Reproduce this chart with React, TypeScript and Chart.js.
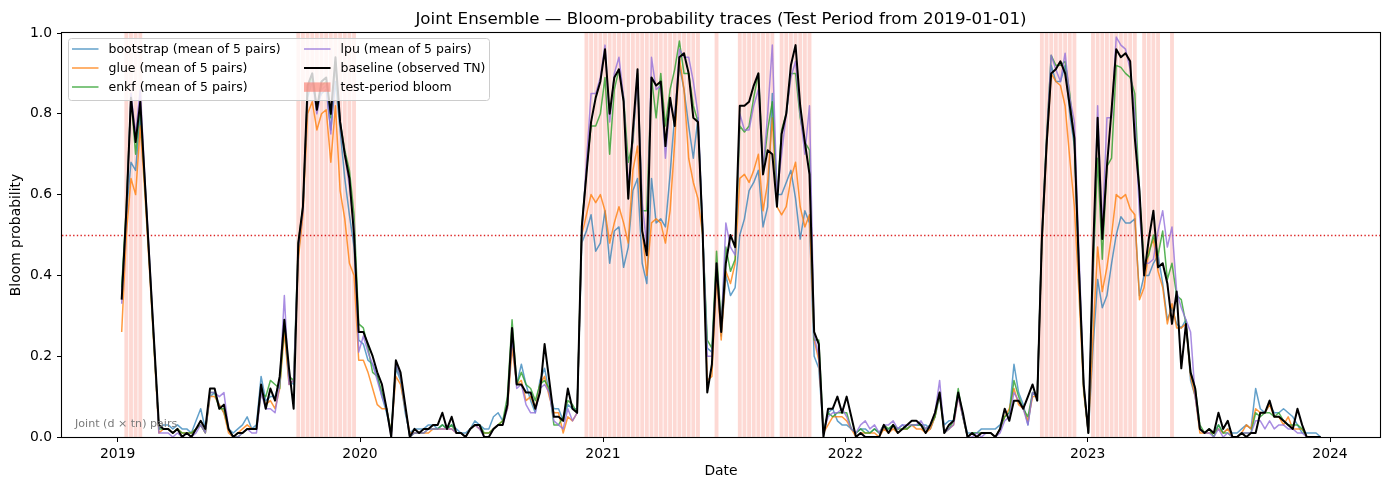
import React, { useEffect, useRef } from 'react';
import { Chart, registerables } from 'chart.js';

Chart.register(...registerables);

// ---- data -------------------------------------------------------------
// Weekly samples, first week starts 2019-01-07 (day 6 counted from 2019-01-01).
const FIRST_WEEK_DAY = 6;
const WEEK_COUNT = 259;
const WEEK_DAYS: number[] = Array.from({ length: WEEK_COUNT }, (_, i) => FIRST_WEEK_DAY + 7 * i);

const YEAR_LABELS = ['2019', '2020', '2021', '2022', '2023', '2024'];
const YEAR_TICK_DAYS = [0, 365, 731, 1096, 1461, 1826];
const Y_TICKS = [0, 0.2, 0.4, 0.6, 0.8, 1.0];
const THRESHOLD = 0.5;

const SERIES_LABELS = [
  'bootstrap (mean of 5 pairs)',
  'glue (mean of 5 pairs)',
  'enkf (mean of 5 pairs)',
  'lpu (mean of 5 pairs)',
  'baseline (observed TN)',
];
const BLOOM_LABEL = 'test-period bloom';
const NOTE_TEXT = 'Joint (d \u00d7 tn) pairs';

// indices of weeks flagged as blooms in the test period
const BLOOM_WEEKS = [
  1, 2, 3, 4,
  38, 39, 40, 41, 42, 43, 44, 45, 46, 47, 48, 49, 50,
  100, 101, 102, 103, 104, 105, 106, 107, 108, 109, 110, 111, 112, 113, 114, 115, 116, 117, 118, 119, 120, 121, 122, 123, 124,
  128,
  133, 134, 135, 136, 137, 138, 139, 140,
  142, 143, 144, 145, 146, 147, 148,
  198, 199, 200, 201, 202, 203, 204, 205,
  209, 210, 211, 212, 213, 214, 215, 216, 217, 218,
  220, 221, 222, 223,
  226,
];

const BASELINE = [
  0.34, 0.56, 0.84, 0.73, 0.83, 0.63, 0.43, 0.23, 0.03, 0.02,
  0.02, 0.01, 0.02, 0.00, 0.01, 0.00, 0.02, 0.04, 0.02, 0.12,
  0.12, 0.07, 0.08, 0.02, 0.00, 0.01, 0.01, 0.02, 0.02, 0.02,
  0.13, 0.07, 0.12, 0.09, 0.15, 0.29, 0.17, 0.07, 0.48, 0.57,
  0.87, 0.90, 0.81, 0.88, 0.89, 0.80, 0.94, 0.78, 0.70, 0.64,
  0.50, 0.26, 0.26, 0.23, 0.20, 0.16, 0.13, 0.07, 0.00, 0.19,
  0.16, 0.08, 0.00, 0.02, 0.01, 0.02, 0.02, 0.03, 0.03, 0.06,
  0.02, 0.05, 0.01, 0.01, 0.00, 0.02, 0.03, 0.03, 0.00, 0.00,
  0.02, 0.03, 0.03, 0.08, 0.27, 0.13, 0.13, 0.11, 0.11, 0.07,
  0.11, 0.23, 0.14, 0.05, 0.05, 0.04, 0.12, 0.07, 0.06, 0.52,
  0.65, 0.78, 0.84, 0.88, 0.96, 0.80, 0.89, 0.91, 0.83, 0.59,
  0.76, 0.91, 0.51, 0.45, 0.89, 0.87, 0.88, 0.72, 0.84, 0.77,
  0.94, 0.95, 0.90, 0.79, 0.78, 0.51, 0.11, 0.18, 0.43, 0.26,
  0.43, 0.50, 0.47, 0.82, 0.82, 0.83, 0.87, 0.90, 0.65, 0.71,
  0.70, 0.57, 0.75, 0.80, 0.92, 0.97, 0.82, 0.73, 0.65, 0.26,
  0.23, 0.00, 0.07, 0.07, 0.10, 0.06, 0.10, 0.05, 0.00, 0.01,
  0.00, 0.00, 0.00, 0.00, 0.03, 0.01, 0.03, 0.01, 0.02, 0.03,
  0.04, 0.04, 0.03, 0.01, 0.03, 0.06, 0.11, 0.01, 0.03, 0.04,
  0.11, 0.06, 0.00, 0.01, 0.00, 0.01, 0.01, 0.01, 0.00, 0.02,
  0.07, 0.04, 0.09, 0.09, 0.07, 0.10, 0.13, 0.09, 0.49, 0.72,
  0.90, 0.91, 0.93, 0.90, 0.82, 0.74, 0.41, 0.13, 0.01, 0.45,
  0.79, 0.49, 0.67, 0.81, 0.96, 0.94, 0.95, 0.93, 0.74, 0.61,
  0.40, 0.49, 0.56, 0.42, 0.43, 0.38, 0.28, 0.36, 0.17, 0.28,
  0.16, 0.12, 0.02, 0.01, 0.02, 0.01, 0.06, 0.02, 0.04, 0.00,
  0.00, 0.01, 0.00, 0.01, 0.01, 0.06, 0.06, 0.09, 0.05, 0.05,
  0.04, 0.03, 0.02, 0.07, 0.03, 0.00, 0.00, 0.00, 0.00,
];

const BOOTSTRAP = [
  0.36, 0.55, 0.68, 0.66, 0.80, 0.62, 0.42, 0.22, 0.02, 0.03,
  0.03, 0.02, 0.03, 0.02, 0.02, 0.01, 0.04, 0.07, 0.02, 0.10,
  0.11, 0.08, 0.06, 0.02, 0.01, 0.02, 0.03, 0.05, 0.02, 0.03,
  0.15, 0.09, 0.10, 0.10, 0.14, 0.27, 0.14, 0.13, 0.45, 0.56,
  0.84, 0.88, 0.82, 0.85, 0.86, 0.76, 0.88, 0.76, 0.64, 0.55,
  0.47, 0.24, 0.23, 0.19, 0.18, 0.15, 0.10, 0.06, 0.01, 0.17,
  0.14, 0.06, 0.01, 0.02, 0.02, 0.02, 0.03, 0.03, 0.02, 0.03,
  0.02, 0.03, 0.02, 0.01, 0.01, 0.02, 0.04, 0.03, 0.02, 0.02,
  0.05, 0.06, 0.04, 0.08, 0.24, 0.13, 0.18, 0.13, 0.09, 0.06,
  0.14, 0.17, 0.11, 0.07, 0.07, 0.04, 0.08, 0.07, 0.07, 0.48,
  0.51, 0.55, 0.46, 0.48, 0.56, 0.43, 0.51, 0.52, 0.42, 0.47,
  0.61, 0.64, 0.43, 0.38, 0.64, 0.53, 0.54, 0.52, 0.65, 0.80,
  0.92, 0.86, 0.77, 0.69, 0.79, 0.51, 0.22, 0.21, 0.42, 0.25,
  0.40, 0.35, 0.37, 0.50, 0.54, 0.61, 0.63, 0.66, 0.52, 0.57,
  0.85, 0.60, 0.60, 0.63, 0.66, 0.59, 0.49, 0.56, 0.53, 0.20,
  0.17, 0.01, 0.06, 0.07, 0.04, 0.03, 0.03, 0.02, 0.01, 0.02,
  0.02, 0.01, 0.02, 0.01, 0.02, 0.02, 0.03, 0.02, 0.03, 0.02,
  0.03, 0.03, 0.03, 0.03, 0.02, 0.05, 0.10, 0.03, 0.04, 0.04,
  0.11, 0.05, 0.01, 0.01, 0.01, 0.02, 0.02, 0.02, 0.02, 0.03,
  0.05, 0.06, 0.18, 0.11, 0.08, 0.03, 0.11, 0.10, 0.48, 0.72,
  0.92, 0.88, 0.88, 0.92, 0.80, 0.72, 0.40, 0.12, 0.01, 0.22,
  0.39, 0.32, 0.35, 0.43, 0.50, 0.545, 0.53, 0.53, 0.54, 0.35,
  0.40, 0.40, 0.43, 0.45, 0.38, 0.29, 0.32, 0.28, 0.27, 0.29,
  0.14, 0.10, 0.02, 0.01, 0.01, 0.01, 0.03, 0.01, 0.02, 0.01,
  0.01, 0.02, 0.03, 0.02, 0.12, 0.07, 0.06, 0.08, 0.06, 0.06,
  0.07, 0.06, 0.05, 0.03, 0.01, 0.01, 0.01, 0.01, 0.00,
];

const GLUE = [
  0.26, 0.50, 0.64, 0.60, 0.77, 0.60, 0.41, 0.21, 0.01, 0.02,
  0.02, 0.01, 0.02, 0.01, 0.01, 0.01, 0.02, 0.03, 0.01, 0.10,
  0.10, 0.08, 0.06, 0.01, 0.00, 0.01, 0.02, 0.03, 0.02, 0.02,
  0.11, 0.08, 0.09, 0.07, 0.12, 0.26, 0.13, 0.14, 0.44, 0.55,
  0.80, 0.83, 0.76, 0.80, 0.81, 0.68, 0.82, 0.61, 0.54, 0.43,
  0.40, 0.19, 0.19, 0.16, 0.12, 0.08, 0.07, 0.07, 0.01, 0.15,
  0.13, 0.07, 0.01, 0.01, 0.01, 0.01, 0.01, 0.02, 0.02, 0.02,
  0.02, 0.02, 0.01, 0.01, 0.00, 0.02, 0.03, 0.02, 0.01, 0.01,
  0.02, 0.03, 0.04, 0.07, 0.22, 0.13, 0.14, 0.09, 0.10, 0.07,
  0.13, 0.15, 0.10, 0.06, 0.06, 0.01, 0.05, 0.04, 0.06, 0.50,
  0.55, 0.60, 0.58, 0.60, 0.56, 0.48, 0.53, 0.57, 0.53, 0.48,
  0.66, 0.72, 0.51, 0.40, 0.53, 0.54, 0.53, 0.48, 0.56, 0.73,
  0.94, 0.86, 0.69, 0.63, 0.59, 0.50, 0.14, 0.15, 0.40, 0.24,
  0.41, 0.38, 0.43, 0.64, 0.65, 0.63, 0.66, 0.70, 0.56, 0.63,
  0.79, 0.57, 0.55, 0.57, 0.64, 0.68, 0.57, 0.52, 0.55, 0.24,
  0.19, 0.01, 0.03, 0.05, 0.05, 0.05, 0.04, 0.02, 0.00, 0.01,
  0.01, 0.01, 0.01, 0.00, 0.02, 0.01, 0.02, 0.01, 0.02, 0.02,
  0.03, 0.02, 0.02, 0.01, 0.02, 0.05, 0.11, 0.01, 0.02, 0.03,
  0.10, 0.05, 0.00, 0.01, 0.00, 0.01, 0.01, 0.01, 0.00, 0.02,
  0.05, 0.07, 0.12, 0.08, 0.07, 0.04, 0.10, 0.10, 0.48, 0.71,
  0.90, 0.88, 0.87, 0.82, 0.69, 0.57, 0.35, 0.11, 0.01, 0.25,
  0.47, 0.36, 0.42, 0.50, 0.60, 0.59, 0.60, 0.565, 0.55, 0.34,
  0.37, 0.46, 0.49, 0.41, 0.37, 0.28, 0.33, 0.27, 0.27, 0.28,
  0.15, 0.10, 0.01, 0.01, 0.01, 0.01, 0.02, 0.01, 0.02, 0.00,
  0.00, 0.01, 0.03, 0.02, 0.07, 0.06, 0.06, 0.08, 0.05, 0.05,
  0.03, 0.05, 0.02, 0.02, 0.02, 0.00, 0.00, 0.00, 0.00,
];

const ENKF = [
  0.37, 0.57, 0.84, 0.70, 0.82, 0.63, 0.43, 0.22, 0.02, 0.02,
  0.02, 0.01, 0.02, 0.01, 0.01, 0.01, 0.02, 0.03, 0.01, 0.11,
  0.11, 0.07, 0.07, 0.02, 0.00, 0.00, 0.01, 0.02, 0.02, 0.02,
  0.11, 0.10, 0.14, 0.13, 0.12, 0.29, 0.15, 0.14, 0.48, 0.57,
  0.86, 0.89, 0.81, 0.87, 0.88, 0.79, 0.92, 0.78, 0.71, 0.66,
  0.55, 0.28, 0.27, 0.22, 0.16, 0.15, 0.11, 0.07, 0.01, 0.18,
  0.15, 0.07, 0.00, 0.01, 0.01, 0.01, 0.02, 0.02, 0.02, 0.03,
  0.02, 0.03, 0.01, 0.01, 0.00, 0.02, 0.03, 0.03, 0.01, 0.01,
  0.02, 0.03, 0.04, 0.10, 0.29, 0.13, 0.16, 0.13, 0.12, 0.09,
  0.13, 0.14, 0.12, 0.03, 0.03, 0.05, 0.09, 0.08, 0.06, 0.52,
  0.66, 0.77, 0.77, 0.80, 0.89, 0.70, 0.86, 0.91, 0.84, 0.68,
  0.73, 0.90, 0.56, 0.56, 0.89, 0.79, 0.90, 0.77, 0.86, 0.91,
  0.98, 0.90, 0.90, 0.82, 0.78, 0.51, 0.24, 0.22, 0.46, 0.28,
  0.47, 0.41, 0.44, 0.77, 0.755, 0.77, 0.84, 0.90, 0.66, 0.76,
  0.83, 0.59, 0.76, 0.80, 0.90, 0.90, 0.79, 0.73, 0.71, 0.24,
  0.24, 0.01, 0.06, 0.05, 0.06, 0.06, 0.06, 0.02, 0.01, 0.02,
  0.01, 0.01, 0.02, 0.01, 0.03, 0.02, 0.03, 0.02, 0.02, 0.02,
  0.03, 0.03, 0.03, 0.02, 0.03, 0.05, 0.11, 0.01, 0.02, 0.04,
  0.12, 0.05, 0.00, 0.01, 0.01, 0.01, 0.01, 0.01, 0.00, 0.02,
  0.05, 0.06, 0.14, 0.10, 0.07, 0.05, 0.11, 0.10, 0.50, 0.74,
  0.945, 0.92, 0.92, 0.93, 0.85, 0.73, 0.42, 0.12, 0.01, 0.40,
  0.69, 0.44, 0.67, 0.69, 0.92, 0.915, 0.90, 0.89, 0.85, 0.60,
  0.43, 0.45, 0.50, 0.45, 0.51, 0.39, 0.43, 0.35, 0.34, 0.28,
  0.16, 0.12, 0.03, 0.01, 0.02, 0.00, 0.03, 0.01, 0.01, 0.00,
  0.00, 0.01, 0.01, 0.01, 0.06, 0.05, 0.06, 0.06, 0.05, 0.06,
  0.04, 0.03, 0.03, 0.03, 0.02, 0.00, 0.00, 0.00, 0.00,
];

const LPU = [
  0.33, 0.55, 0.85, 0.75, 0.86, 0.64, 0.44, 0.23, 0.01, 0.01,
  0.01, 0.00, 0.01, 0.00, 0.01, 0.00, 0.01, 0.03, 0.01, 0.11,
  0.11, 0.10, 0.11, 0.02, 0.00, 0.00, 0.01, 0.02, 0.01, 0.01,
  0.11, 0.07, 0.07, 0.06, 0.13, 0.35, 0.13, 0.14, 0.47, 0.56,
  0.86, 0.88, 0.80, 0.86, 0.87, 0.75, 0.93, 0.78, 0.70, 0.62,
  0.52, 0.21, 0.25, 0.21, 0.18, 0.14, 0.10, 0.07, 0.00, 0.18,
  0.15, 0.07, 0.00, 0.01, 0.01, 0.01, 0.02, 0.02, 0.02, 0.02,
  0.02, 0.02, 0.01, 0.01, 0.00, 0.02, 0.03, 0.02, 0.00, 0.00,
  0.02, 0.03, 0.03, 0.07, 0.25, 0.12, 0.13, 0.08, 0.06, 0.06,
  0.12, 0.13, 0.11, 0.04, 0.03, 0.02, 0.07, 0.04, 0.06, 0.50,
  0.68, 0.85, 0.85, 0.89, 0.97, 0.78, 0.90, 0.94, 0.84, 0.62,
  0.74, 0.89, 0.58, 0.47, 0.94, 0.86, 0.87, 0.69, 0.83, 0.78,
  0.96, 0.94, 0.94, 0.88, 0.80, 0.52, 0.20, 0.20, 0.43, 0.26,
  0.53, 0.47, 0.45, 0.80, 0.76, 0.76, 0.82, 0.86, 0.66, 0.80,
  0.97, 0.60, 0.70, 0.80, 0.89, 0.93, 0.80, 0.70, 0.82, 0.25,
  0.20, 0.01, 0.05, 0.06, 0.06, 0.07, 0.05, 0.02, 0.01, 0.03,
  0.04, 0.02, 0.03, 0.01, 0.03, 0.03, 0.04, 0.02, 0.03, 0.03,
  0.03, 0.03, 0.04, 0.02, 0.03, 0.06, 0.14, 0.01, 0.02, 0.03,
  0.10, 0.05, 0.00, 0.00, 0.01, 0.00, 0.01, 0.01, 0.00, 0.01,
  0.04, 0.05, 0.11, 0.09, 0.07, 0.03, 0.11, 0.10, 0.50, 0.73,
  0.945, 0.91, 0.88, 0.95, 0.84, 0.78, 0.45, 0.13, 0.01, 0.42,
  0.82, 0.51, 0.79, 0.79, 0.99, 0.97, 0.96, 0.91, 0.80, 0.55,
  0.43, 0.43, 0.44, 0.51, 0.56, 0.47, 0.52, 0.36, 0.32, 0.29,
  0.26, 0.10, 0.02, 0.01, 0.01, 0.00, 0.02, 0.00, 0.01, 0.00,
  0.00, 0.01, 0.01, 0.01, 0.04, 0.04, 0.02, 0.04, 0.02, 0.03,
  0.03, 0.02, 0.02, 0.01, 0.01, 0.00, 0.00, 0.00, 0.00,
];

// ---- styling ----------------------------------------------------------
const FONT = "'DejaVu Sans', 'Liberation Sans', sans-serif";
const SERIES_COLORS = [
  'rgba(31,119,180,0.7)',
  'rgba(255,127,14,0.8)',
  'rgba(44,160,44,0.8)',
  'rgba(147,112,219,0.8)',
  '#000000',
];
const SERIES_WIDTHS = [1.5, 1.5, 1.5, 1.5, 2.0];
const BLOOM_FILL = 'rgba(250,128,114,0.3)';
const BLOOM_LEGEND_FILL = 'rgba(250,128,114,0.65)';

const W = 1389;
const H = 490;

function toPoints(values: number[]) {
  return values.map((v, i) => ({ x: WEEK_DAYS[i], y: v }));
}

const decorPlugin = {
  id: 'decor',
  beforeDatasetsDraw(chart: any) {
    const { ctx, chartArea: a, scales } = chart;
    const xs = scales.x;
    const ys = scales.y;
    ctx.save();
    ctx.beginPath();
    ctx.rect(a.left, a.top, a.right - a.left, a.bottom - a.top);
    ctx.clip();
    // bloom weeks
    ctx.fillStyle = BLOOM_FILL;
    for (const w of BLOOM_WEEKS) {
      const d = WEEK_DAYS[w];
      const x0 = xs.getPixelForValue(d - 2.9);
      const x1 = xs.getPixelForValue(d + 2.9);
      ctx.fillRect(x0, a.top, x1 - x0, a.bottom - a.top);
    }
    // probability threshold
    const ty = Math.round(ys.getPixelForValue(THRESHOLD)) + 0.5;
    ctx.strokeStyle = 'rgba(214,0,0,0.85)';
    ctx.lineWidth = 1.3;
    ctx.setLineDash([1.4, 2.3]);
    ctx.beginPath();
    ctx.moveTo(a.left, ty);
    ctx.lineTo(a.right, ty);
    ctx.stroke();
    ctx.restore();
  },
  afterDatasetsDraw(chart: any) {
    const { ctx, chartArea: a } = chart;
    ctx.save();
    // corner note
    ctx.font = `11.1px ${FONT}`;
    ctx.fillStyle = '#7a7a7a';
    ctx.textAlign = 'left';
    ctx.textBaseline = 'alphabetic';
    ctx.fillText(NOTE_TEXT, a.left + 13, a.bottom - 10.5);

    // legend
    const bx = 68.5, by = 38.5, bw = 421, bh = 62, r = 3;
    ctx.beginPath();
    ctx.moveTo(bx + r, by);
    ctx.lineTo(bx + bw - r, by);
    ctx.quadraticCurveTo(bx + bw, by, bx + bw, by + r);
    ctx.lineTo(bx + bw, by + bh - r);
    ctx.quadraticCurveTo(bx + bw, by + bh, bx + bw - r, by + bh);
    ctx.lineTo(bx + r, by + bh);
    ctx.quadraticCurveTo(bx, by + bh, bx, by + bh - r);
    ctx.lineTo(bx, by + r);
    ctx.quadraticCurveTo(bx, by, bx + r, by);
    ctx.closePath();
    ctx.fillStyle = 'rgba(255,255,255,0.8)';
    ctx.fill();
    ctx.strokeStyle = '#cccccc';
    ctx.lineWidth = 1;
    ctx.stroke();

    const rows = [49, 68, 87];
    const cols = [{ hx: 72, tx: 108.5 }, { hx: 304, tx: 340.5 }];
    const entries = [0, 1, 2, 3, 4, -1];
    ctx.font = `12.5px ${FONT}`;
    ctx.textBaseline = 'middle';
    entries.forEach((k, n) => {
      const col = cols[Math.floor(n / 3)];
      const ry = rows[n % 3];
      if (k >= 0) {
        ctx.strokeStyle = SERIES_COLORS[k];
        ctx.lineWidth = SERIES_WIDTHS[k];
        ctx.beginPath();
        ctx.moveTo(col.hx, ry);
        ctx.lineTo(col.hx + 26.5, ry);
        ctx.stroke();
      } else {
        ctx.fillStyle = BLOOM_LEGEND_FILL;
        ctx.fillRect(col.hx, ry - 4.6, 26.5, 9.4);
      }
      ctx.fillStyle = '#000';
      ctx.fillText(k >= 0 ? SERIES_LABELS[k] : BLOOM_LABEL, col.tx, ry + 0.5);
    });
    ctx.restore();
  },
  afterDraw(chart: any) {
    const { ctx, chartArea: a } = chart;
    ctx.save();
    // frame
    ctx.strokeStyle = '#000';
    ctx.lineWidth = 1.1;
    ctx.strokeRect(a.left - 0.5, a.top - 0.5, a.right - a.left + 1, a.bottom - a.top + 1);
    // title and axis titles
    const cx = (a.left + a.right) / 2;
    ctx.fillStyle = '#000';
    ctx.textAlign = 'center';
    ctx.font = `16.7px ${FONT}`;
    ctx.textBaseline = 'alphabetic';
    ctx.fillText('Joint Ensemble \u2014 Bloom-probability traces (Test Period from 2019-01-01)', cx, 24);
    ctx.font = `13.9px ${FONT}`;
    ctx.textBaseline = 'middle';
    ctx.fillText('Date', cx, 471);
    ctx.translate(16.5, (a.top + a.bottom) / 2);
    ctx.rotate(-Math.PI / 2);
    ctx.fillText('Bloom probability', 0, 0);
    ctx.restore();
  },
};

export default function App() {
  const canvasRef = useRef<HTMLCanvasElement | null>(null);

  useEffect(() => {
    const canvas = canvasRef.current;
    if (!canvas) return;
    const seriesValues = [BOOTSTRAP, GLUE, ENKF, LPU, BASELINE];
    const datasets = seriesValues.map((vals, k) => ({
      label: SERIES_LABELS[k],
      data: toPoints(vals),
      borderColor: SERIES_COLORS[k],
      backgroundColor: SERIES_COLORS[k],
      borderWidth: SERIES_WIDTHS[k],
      pointRadius: 0,
      tension: 0,
      fill: false,
      borderJoinStyle: 'round' as const,
      order: 4 - k,
    }));

    const chart = new Chart(canvas, {
      type: 'line',
      data: { datasets },
      plugins: [decorPlugin],
      options: {
        animation: false,
        responsive: false,
        devicePixelRatio: 1,
        events: [],
        layout: { padding: { left: 0, right: 9, top: 33, bottom: 0 } },
        plugins: {
          legend: { display: false },
          title: { display: false },
          tooltip: { enabled: false },
        },
        scales: {
          x: {
            type: 'linear',
            min: -83.9,
            max: 1901.3,
            afterFit: (s: any) => { s.height = 53; },
            afterBuildTicks: (s: any) => { s.ticks = YEAR_TICK_DAYS.map((v) => ({ value: v })); },
            ticks: {
              autoSkip: false,
              maxRotation: 0,
              padding: 4,
              color: '#000',
              font: { family: FONT, size: 13.9 },
              callback: (v: any) => {
                const k = YEAR_TICK_DAYS.indexOf(Number(v));
                return k >= 0 ? YEAR_LABELS[k] : '';
              },
            },
            grid: { drawOnChartArea: false, drawTicks: true, tickLength: 5, color: '#000', lineWidth: 1 },
            border: { display: false },
          },
          y: {
            type: 'linear',
            min: 0,
            max: 1,
            afterFit: (s: any) => { s.width = 62; },
            afterBuildTicks: (s: any) => { s.ticks = Y_TICKS.map((v) => ({ value: v })); },
            ticks: {
              padding: 5,
              color: '#000',
              font: { family: FONT, size: 13.9 },
              callback: (v: any) => Number(v).toFixed(1),
            },
            grid: { drawOnChartArea: false, drawTicks: true, tickLength: 5, color: '#000', lineWidth: 1 },
            border: { display: false },
          },
        },
      },
    });
    return () => chart.destroy();
  }, []);

  return (
    <div style={{ position: 'absolute', left: 0, top: 0, width: W, height: H, background: '#ffffff' }}>
      <canvas ref={canvasRef} width={W} height={H} style={{ display: 'block', width: W, height: H }} />
    </div>
  );
}
